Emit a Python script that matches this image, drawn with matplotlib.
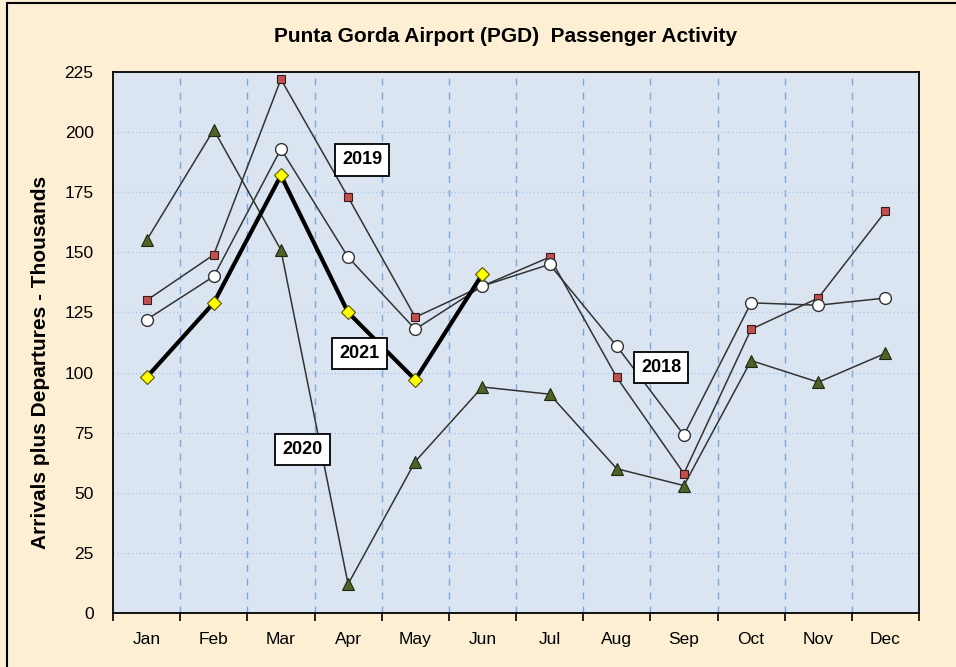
import matplotlib.pyplot as plt
import numpy as np
from matplotlib.patches import Rectangle

months = ['Jan', 'Feb', 'Mar', 'Apr', 'May', 'Jun', 'Jul', 'Aug', 'Sep', 'Oct', 'Nov', 'Dec']
pax_2018 = [122, 140, 193, 148, 118, 136, 145, 111, 74, 129, 128, 131]
pax_2019 = [130, 149, 222, 173, 123, 136, 148, 98, 58, 118, 131, 167]
pax_2020 = [155, 201, 151, 12, 63, 94, 91, 60, 53, 105, 96, 108]
pax_2021 = [98, 129, 182, 125, 97, 141]

plt.rcParams['font.family'] = ['Liberation Sans', 'DejaVu Sans']

fig = plt.figure(figsize=(9.56, 6.67), dpi=100, facecolor='#fcefd3')
ax = fig.add_axes([0.1182, 0.081, 0.8431, 0.811])
ax.set_facecolor('#dbe5f1')

# outer frame of the picture (only left/top edges are visible)
fig.patches.append(Rectangle((7/956, -0.05), 1.2, 1 - 3/667 + 0.05, transform=fig.transFigure,
                             fill=False, edgecolor='black', linewidth=1.5))

x = np.arange(len(months))
ax.plot(x, pax_2019, color='#333333', lw=1.1, marker='s', ms=5.5,
        mfc='#c0504d', mec='#3a1a1a', mew=0.8, zorder=3)
ax.plot(x, pax_2020, color='#333333', lw=1.1, marker='^', ms=8,
        mfc='#4f6228', mec='#1e2a10', mew=0.8, zorder=3)
ax.plot(x, pax_2018, color='#333333', lw=1.1, marker='o', ms=8.5,
        mfc='white', mec='#333333', mew=1.0, zorder=4)
ax.plot(x[:len(pax_2021)], pax_2021, color='black', lw=3, marker='D', ms=7.5,
        mfc='#ffff00', mec='#555500', mew=0.8, zorder=5)

box = dict(boxstyle='square,pad=0.4', fc='white', ec='black', lw=1.3)
for lbl, lx, ly in [('2019', 3.21, 188.5), ('2021', 3.17, 108), ('2020', 2.32, 68), ('2018', 7.66, 102)]:
    ax.text(lx, ly, lbl, ha='center', va='center', fontsize=13, fontweight='bold',
            bbox=box, zorder=6)

ax.set_xlim(-0.5, 11.5)
ax.set_ylim(0, 225)
ax.set_yticks(np.arange(0, 226, 25))
ax.set_xticks(x)
ax.set_xticklabels(months)
ax.set_xticks(np.arange(-0.5, 12, 1), minor=True)
ax.tick_params(axis='x', which='major', length=0, pad=14, labelsize=12.5)
ax.tick_params(axis='x', which='minor', length=6, width=1.2, direction='out')
ax.tick_params(axis='y', length=0, pad=14, labelsize=12.5)

for v in np.arange(0.5, 11.5, 1):
    ax.axvline(v, color='#7aa7e0', lw=1, ls=(0, (5, 5)), zorder=1)
for h in np.arange(25, 225, 25):
    ax.axhline(h, color='#a9c4ea', lw=0.9, ls=(0, (1, 2)), zorder=1)

for s in ax.spines.values():
    s.set_linewidth(1.3)
    s.set_color('black')

ax.set_ylabel('Arrivals plus Departures - Thousands', fontsize=15, fontweight='bold')
ax.yaxis.set_label_coords(-0.078, 0.464)
fig.text(506/956, 1 - 36/667, 'Punta Gorda Airport (PGD)  Passenger Activity',
         ha='center', va='center', fontsize=15, fontweight='bold')

fig.savefig('out.png', dpi=100, facecolor=fig.get_facecolor())
